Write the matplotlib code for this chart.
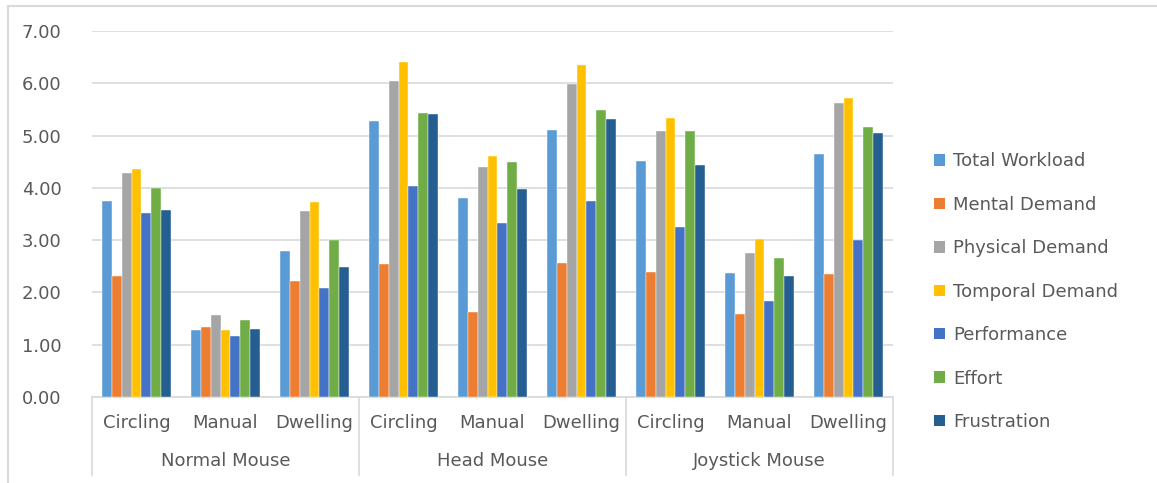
import matplotlib
matplotlib.use("Agg")
import matplotlib.pyplot as plt
import numpy as np
from matplotlib.lines import Line2D
from matplotlib.patches import Patch

groups = ["Normal Mouse", "Head Mouse", "Joystick Mouse"]
methods = ["Circling", "Manual", "Dwelling"]
series = ["Total Workload", "Mental Demand", "Physical Demand", "Tomporal Demand",
          "Performance", "Effort", "Frustration"]
colors = ["#5B9BD5", "#ED7D31", "#A5A5A5", "#FFC000", "#4472C4", "#70AD47", "#255E91"]

total_workload = [3.75, 1.29, 2.80, 5.27, 3.80, 5.11, 4.52, 2.38, 4.64]
mental_demand = [2.31, 1.33, 2.22, 2.55, 1.63, 2.57, 2.40, 1.59, 2.36]
physical_demand = [4.28, 1.57, 3.55, 6.05, 4.40, 5.99, 5.09, 2.75, 5.62]
temporal_demand = [4.36, 1.29, 3.73, 6.41, 4.60, 6.35, 5.33, 3.03, 5.72]
performance = [3.51, 1.17, 2.08, 4.03, 3.32, 3.75, 3.26, 1.84, 3.00]
effort = [3.99, 1.47, 3.00, 5.44, 4.50, 5.49, 5.09, 2.65, 5.16]
frustration = [3.57, 1.31, 2.49, 5.42, 3.97, 5.32, 4.44, 2.31, 5.04]

values = [total_workload, mental_demand, physical_demand, temporal_demand,
          performance, effort, frustration]
yticks = [0, 1, 2, 3, 4, 5, 6, 7]

W, H = 1157, 483
fig = plt.figure(figsize=(W / 100, H / 100), dpi=100)
ax = fig.add_axes([92 / W, 1 - 397 / H, (893 - 92) / W, (397 - 31) / H])

font = "DejaVu Sans"
fs = 13
tc = "#595959"
n_cat = len(groups) * len(methods)
x = np.arange(n_cat)
ns = len(series)
bw = 0.112
for i, (name, vals, c) in enumerate(zip(series, values, colors)):
    off = (i - (ns - 1) / 2) * bw
    ax.bar(x + off, vals, width=bw, color=c, edgecolor="white", linewidth=0.3,
           label=name, zorder=3)

ax.set_xlim(-0.5, n_cat - 0.5)
ax.set_ylim(0, 7)
ax.set_yticks(yticks)
ax.set_yticklabels([f"{v:.2f}" for v in yticks], fontsize=fs, color=tc, family=font)
ax.tick_params(axis="y", length=0, pad=22)
ax.grid(axis="y", color="#D9D9D9", linewidth=1.2, zorder=0)
ax.set_axisbelow(True)
for s in ["top", "right", "left"]:
    ax.spines[s].set_visible(False)
ax.spines["bottom"].set_color("#D9D9D9")
ax.spines["bottom"].set_linewidth(1.2)
ax.set_xticks(x)
ax.set_xticklabels(methods * len(groups), fontsize=fs, color=tc, family=font)
ax.tick_params(axis="x", length=0, pad=12)

axh = 397 - 31
bottom_frac = -(475 - 397) / axh
trans = ax.get_xaxis_transform()
for k in range(len(groups) + 1):
    xs = k * len(methods) - 0.5
    ax.add_line(Line2D([xs, xs], [0, bottom_frac], transform=trans, color="#D9D9D9",
                       linewidth=1.2, clip_on=False))
for k, g in enumerate(groups):
    xc = k * len(methods) + (len(methods) - 1) / 2
    ax.text(xc, -(461 - 397) / axh, g, transform=trans, ha="center", va="center",
            fontsize=fs, color=tc, family=font)

handles = [Patch(facecolor=c, edgecolor="none") for c in colors]
leg = fig.legend(handles, series, loc="upper left", bbox_to_anchor=(918 / W, 1 - 136 / H),
                 frameon=False, labelspacing=1.41, handlelength=0.6,
                 handleheight=0.6, handletextpad=0.45, labelcolor=tc,
                 prop={"family": font, "size": fs})

fig.add_artist(Line2D([8 / W, 1], [1 - 6 / H, 1 - 6 / H], transform=fig.transFigure,
                      color="#D9D9D9", linewidth=1.5))
fig.add_artist(Line2D([8 / W, 8 / W], [0, 1 - 6 / H], transform=fig.transFigure,
                      color="#D9D9D9", linewidth=1.5))

fig.savefig("out.png", dpi=100, facecolor="white")
